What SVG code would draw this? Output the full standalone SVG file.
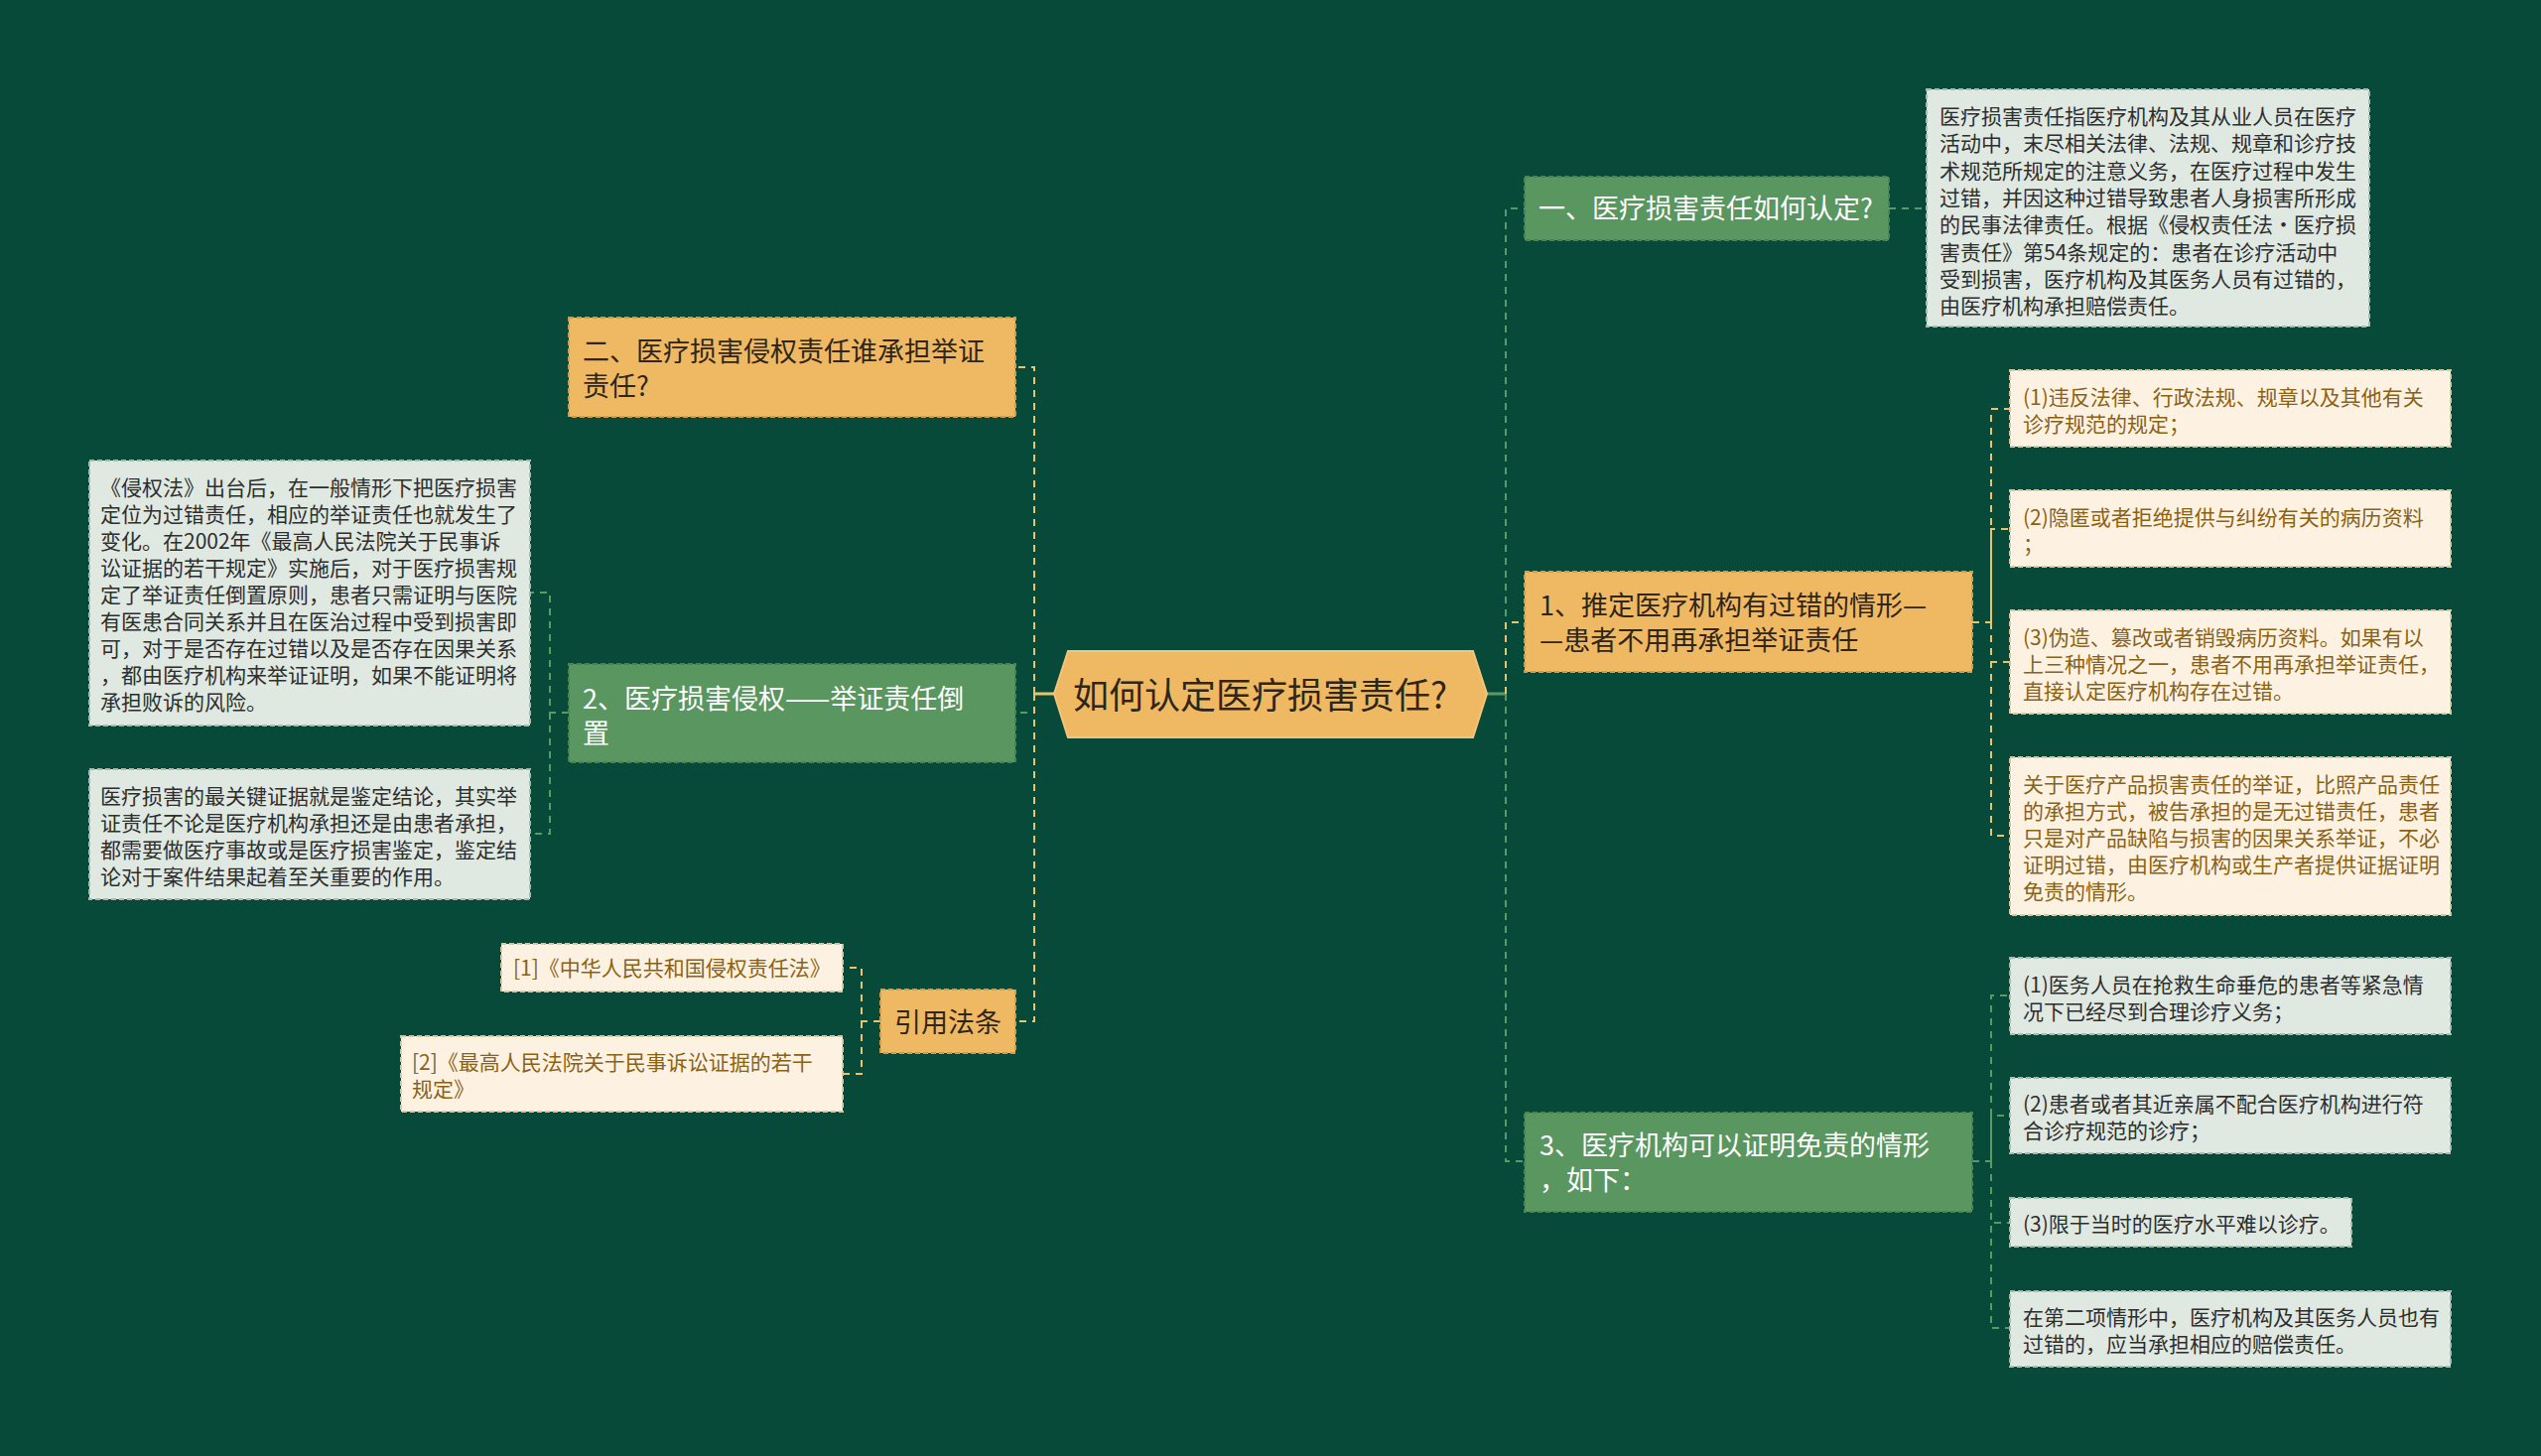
<svg xmlns="http://www.w3.org/2000/svg" width="2560" height="1467" viewBox="0 0 2560 1467">
<style>
text{font-family:"Noto Sans CJK SC","Noto Sans",sans-serif;dominant-baseline:central}
.ny{fill:#efb964;stroke:#cf9d4c;stroke-width:2;stroke-dasharray:5 3}
.ng{fill:#5a9660;stroke:#4a8452;stroke-width:2;stroke-dasharray:5 3}
.bl{fill:#dfe9e1;stroke:#a7bcac;stroke-width:2;stroke-dasharray:5 3}
.bc{fill:#fdf2e2;stroke:#d8c7a4;stroke-width:2;stroke-dasharray:5 3}
.tm{font-size:27px}
.ts{font-size:21px}
.dk{fill:#2f2617}
.wh{fill:#ffffff}
.gy{fill:#2e2e2e}
.br{fill:#8a6216}
.cy{fill:none;stroke:#e8c46f;stroke-width:2;stroke-dasharray:7 6}
.cg{fill:none;stroke:#5a9a64;stroke-width:2;stroke-dasharray:7 6}
.sy{fill:none;stroke:#e8c46f;stroke-width:3}
.sg{fill:none;stroke:#5a9a64;stroke-width:3}
</style>
<rect width="2560" height="1467" fill="#084a3a"/>

<g id="connectors">
  <path class="sy" d="M1062,699 H1042"/>
  <path class="sg" d="M1498,699 H1517"/>
  <path class="cy" d="M1042,699 V370 H1023"/>
  <path class="cg" d="M1042,699 V718 H1023"/>
  <path class="cy" d="M1042,699 V1029 H1023"/>
  <path class="cg" d="M1517,699 V210 H1536"/>
  <path class="cy" d="M1517,699 V627 H1536"/>
  <path class="cg" d="M1517,699 V1170 H1536"/>
  <path class="cg" d="M1903,210 H1941"/>
  <path class="cy" d="M1987,627 H2006 V412 H2025"/>
  <path class="cy" d="M2006,627 V533 H2025"/>
  <path class="cy" d="M2006,627 V667 H2025"/>
  <path class="cy" d="M2006,627 V842 H2025"/>
  <path class="cg" d="M1987,1170 H2006 V1003 H2025"/>
  <path class="cg" d="M2006,1170 V1124 H2025"/>
  <path class="cg" d="M2006,1170 V1232 H2025"/>
  <path class="cg" d="M2006,1170 V1338 H2025"/>
  <path class="cg" d="M573,718 H554 V597 H534"/>
  <path class="cg" d="M554,718 V840 H534"/>
  <path class="cy" d="M887,1029 H868 V975 H849"/>
  <path class="cy" d="M868,1029 V1082 H849"/>
</g>

<g id="root">
  <polygon points="1062,699 1076,656 1484,656 1498,699 1484,743 1076,743" fill="#efb964" stroke="#f3c57a" stroke-width="2"/>
  <text x="1081" y="698" font-size="36" class="dk">如何认定医疗损害责任?</text>
</g>

<g id="n-yi">
  <rect class="ng" x="1536" y="178" width="367" height="64"/>
  <text class="tm wh" x="1550" y="208">一、医疗损害责任如何认定?</text>
</g>
<g id="d-yi">
  <rect class="bl" x="1941" y="90" width="446" height="239"/>
  <g class="ts gy">
    <text x="1954" y="116">医疗损害责任指医疗机构及其从业人员在医疗</text>
    <text x="1954" y="143.3">活动中，末尽相关法律、法规、规章和诊疗技</text>
    <text x="1954" y="170.6">术规范所规定的注意义务，在医疗过程中发生</text>
    <text x="1954" y="197.9">过错，并因这种过错导致患者人身损害所形成</text>
    <text x="1954" y="225.2">的民事法律责任。根据《侵权责任法·医疗损</text>
    <text x="1954" y="252.5">害责任》第54条规定的：患者在诊疗活动中</text>
    <text x="1954" y="279.8">受到损害，医疗机构及其医务人员有过错的，</text>
    <text x="1954" y="307.1">由医疗机构承担赔偿责任。</text>
  </g>
</g>

<g id="n-1">
  <rect class="ny" x="1536" y="576" width="451" height="101"/>
  <text class="tm dk" x="1551" y="608">1、推定医疗机构有过错的情形—</text>
  <text class="tm dk" x="1551" y="643">—患者不用再承担举证责任</text>
</g>
<g id="c1-1">
  <rect class="bc" x="2025" y="373" width="444" height="77"/>
  <text class="ts br" x="2038" y="399">(1)违反法律、行政法规、规章以及其他有关</text>
  <text class="ts br" x="2038" y="426">诊疗规范的规定；</text>
</g>
<g id="c1-2">
  <rect class="bc" x="2025" y="494" width="444" height="77"/>
  <text class="ts br" x="2038" y="520">(2)隐匿或者拒绝提供与纠纷有关的病历资料</text>
  <text class="ts br" x="2038" y="547">；</text>
</g>
<g id="c1-3">
  <rect class="bc" x="2025" y="615" width="444" height="104"/>
  <text class="ts br" x="2038" y="641">(3)伪造、篡改或者销毁病历资料。如果有以</text>
  <text class="ts br" x="2038" y="668">上三种情况之一，患者不用再承担举证责任，</text>
  <text class="ts br" x="2038" y="695">直接认定医疗机构存在过错。</text>
</g>
<g id="c1-4">
  <rect class="bc" x="2025" y="763" width="444" height="159"/>
  <text class="ts br" x="2038" y="789">关于医疗产品损害责任的举证，比照产品责任</text>
  <text class="ts br" x="2038" y="816">的承担方式，被告承担的是无过错责任，患者</text>
  <text class="ts br" x="2038" y="843">只是对产品缺陷与损害的因果关系举证，不必</text>
  <text class="ts br" x="2038" y="870">证明过错，由医疗机构或生产者提供证据证明</text>
  <text class="ts br" x="2038" y="897">免责的情形。</text>
</g>

<g id="n-3">
  <rect class="ng" x="1536" y="1121" width="451" height="100"/>
  <text class="tm wh" x="1551" y="1152">3、医疗机构可以证明免责的情形</text>
  <text class="tm wh" x="1551" y="1187">，如下：</text>
</g>
<g id="c3-1">
  <rect class="bl" x="2025" y="965" width="444" height="77"/>
  <text class="ts gy" x="2038" y="991">(1)医务人员在抢救生命垂危的患者等紧急情</text>
  <text class="ts gy" x="2038" y="1018">况下已经尽到合理诊疗义务；</text>
</g>
<g id="c3-2">
  <rect class="bl" x="2025" y="1086" width="444" height="76"/>
  <text class="ts gy" x="2038" y="1111">(2)患者或者其近亲属不配合医疗机构进行符</text>
  <text class="ts gy" x="2038" y="1138">合诊疗规范的诊疗；</text>
</g>
<g id="c3-3">
  <rect class="bl" x="2025" y="1207" width="344" height="49"/>
  <text class="ts gy" x="2038" y="1232">(3)限于当时的医疗水平难以诊疗。</text>
</g>
<g id="c3-4">
  <rect class="bl" x="2025" y="1301" width="444" height="76"/>
  <text class="ts gy" x="2038" y="1326">在第二项情形中，医疗机构及其医务人员也有</text>
  <text class="ts gy" x="2038" y="1353">过错的，应当承担相应的赔偿责任。</text>
</g>

<g id="n-er">
  <rect class="ny" x="573" y="320" width="450" height="100"/>
  <text class="tm dk" x="587" y="352">二、医疗损害侵权责任谁承担举证</text>
  <text class="tm dk" x="587" y="387">责任?</text>
</g>

<g id="n-2">
  <rect class="ng" x="573" y="669" width="450" height="99"/>
  <text class="tm wh" x="587" y="702">2、医疗损害侵权——举证责任倒</text>
  <text class="tm wh" x="587" y="737">置</text>
</g>
<g id="c2-1">
  <rect class="bl" x="90" y="464" width="444" height="267"/>
  <g class="ts gy">
    <text x="101" y="490">《侵权法》出台后，在一般情形下把医疗损害</text>
    <text x="101" y="517">定位为过错责任，相应的举证责任也就发生了</text>
    <text x="101" y="544">变化。在2002年《最高人民法院关于民事诉</text>
    <text x="101" y="571">讼证据的若干规定》实施后，对于医疗损害规</text>
    <text x="101" y="598">定了举证责任倒置原则，患者只需证明与医院</text>
    <text x="101" y="625">有医患合同关系并且在医治过程中受到损害即</text>
    <text x="101" y="652">可，对于是否存在过错以及是否存在因果关系</text>
    <text x="101" y="679">，都由医疗机构来举证证明，如果不能证明将</text>
    <text x="101" y="706">承担败诉的风险。</text>
  </g>
</g>
<g id="c2-2">
  <rect class="bl" x="90" y="775" width="444" height="131"/>
  <g class="ts gy">
    <text x="101" y="801">医疗损害的最关键证据就是鉴定结论，其实举</text>
    <text x="101" y="828">证责任不论是医疗机构承担还是由患者承担，</text>
    <text x="101" y="855">都需要做医疗事故或是医疗损害鉴定，鉴定结</text>
    <text x="101" y="882">论对于案件结果起着至关重要的作用。</text>
  </g>
</g>

<g id="n-ref">
  <rect class="ny" x="887" y="997" width="136" height="64"/>
  <text class="tm dk" x="901" y="1028">引用法条</text>
</g>
<g id="r-1">
  <rect class="bc" x="505" y="951" width="344" height="48"/>
  <text class="ts br" x="517" y="974">[1]《中华人民共和国侵权责任法》</text>
</g>
<g id="r-2">
  <rect class="bc" x="404" y="1044" width="445" height="76"/>
  <text class="ts br" x="415" y="1069">[2]《最高人民法院关于民事诉讼证据的若干</text>
  <text class="ts br" x="415" y="1096">规定》</text>
</g>
</svg>
